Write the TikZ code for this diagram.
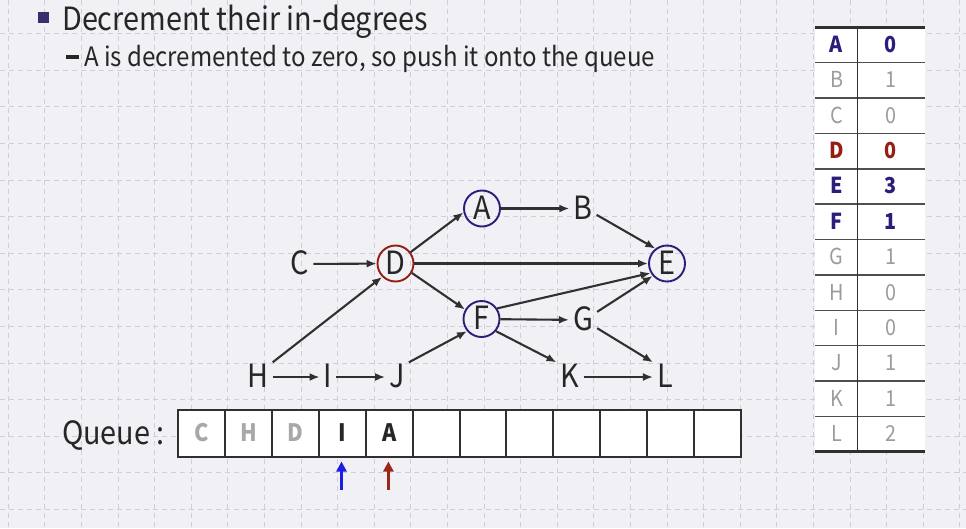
\documentclass[tikz,border=0pt]{standalone}
\usepackage{fontspec}
\setmainfont{Noto Sans CJK KR}[FakeStretch=0.9]
\usetikzlibrary{arrows.meta}
\definecolor{bg}{HTML}{F0F0F5}
\definecolor{gridc}{HTML}{CFCFD7}
\definecolor{txt}{HTML}{262626}
\definecolor{edgec}{HTML}{303030}
\definecolor{purp}{HTML}{2E1C7A}
\definecolor{darkred}{HTML}{941E12}
\definecolor{lgray}{HTML}{9C9C9C}
\definecolor{qgray}{HTML}{A8A8A8}
\definecolor{bulletc}{HTML}{3A2D6E}
\definecolor{arrblue}{HTML}{1E1EE0}
\definecolor{arrred}{HTML}{9A2818}
\tikzset{
  gridline/.style={gridc, line width=0.9pt, dash pattern=on 5pt off 4pt},
  letter/.style={font=\fontsize{32}{36}\selectfont, text=txt, inner sep=4pt, text height=21pt, text depth=0pt},
  vtx/.style={letter, circle, draw=purp, line width=1.9pt, minimum size=36pt, inner sep=0pt},
  vtxred/.style={vtx, draw=darkred},
  conn/.style={line width=2.1pt, draw=edgec, -{Latex[length=10pt,width=8pt]}},
  tbase/.style={font=\fontsize{22}{26}\selectfont, inner sep=0pt, text height=15pt, text depth=0pt},
  tp/.style={tbase, font=\fontsize{22}{26}\selectfont\bfseries, text=purp},
  tr/.style={tbase, font=\fontsize{22}{26}\selectfont\bfseries, text=darkred},
  tg/.style={tbase, text=lgray},
  qcell/.style={draw=edgec, line width=2pt, fill=white, minimum width=46.92pt, minimum height=47pt, inner sep=0pt},
  qtext/.style={font=\fontsize{24}{26}\selectfont\bfseries, inner sep=0pt, text height=16pt, text depth=0pt},
  ptr/.style={line width=3pt, -{Triangle[length=10pt,width=10pt]}},
}
\begin{document}
\begin{tikzpicture}[x=1pt,y=-1pt]
\fill[bg] (0,0) rectangle (966,528);
\useasboundingbox (0,0) rectangle (966,528);
% grid
\foreach \i in {0,...,26} \draw[gridline] ({8.3+36.6*\i},0) -- ({8.3+36.6*\i},528);
\foreach \j in {0,...,13} \draw[gridline] (0,{33.7+36.6*\j}) -- (966,{33.7+36.6*\j});

% title
\node[fill=bulletc, minimum size=11pt, inner sep=0pt] (bul) at (43.5,17.5) {};
\node[anchor=base west, inner sep=0pt, text=txt, font=\fontsize{32}{36}\selectfont] (title) at (62,30) {Decrement their in-degrees};
\node[anchor=base west, inner sep=0pt, text=txt, font=\fontsize{26.7}{30}\selectfont] (sub) at (66,66) {\rule[7.5pt]{13pt}{3.5pt}\hspace{5pt}A is decremented to zero, so push it onto the queue};

% graph nodes
\node[letter] (C) at (300,264) {C};
\node[vtxred] (D) at (395.5,263.5) {D};
\node[vtx] (A) at (482,208.5) {A};
\node[letter] (B) at (583,208.5) {B};
\node[vtx] (E) at (667,263.5) {E};
\node[vtx] (F) at (481.5,319) {F};
\node[letter] (G) at (583,320) {G};
\node[letter] (H) at (258,377) {H};
\node[letter] (I) at (328,377) {I};
\node[letter] (J) at (397,377) {J};
\node[letter] (K) at (570,377) {K};
\node[letter] (L) at (665,377) {L};

% connectors
\draw[conn] (C) -- (D);
\draw[conn] (D.37) -- (A.192);
\draw[conn] (A) -- (B);
\draw[conn] (B.-25) -- (E.128);
\draw[conn] (D) -- (E);
\draw[conn] (D.-30) -- (F.150);
\draw[conn] (H.north east) -- (D.225);
\draw[conn] (H) -- (I);
\draw[conn] (I) -- (J);
\draw[conn] (J.north east) -- (F.220);
\draw[conn] (F) -- (G);
\draw[conn] (F.34) -- (E.210);
\draw[conn] (G.30) -- (E.221);
\draw[conn] (G.-30) -- (L.north west);
\draw[conn] (F.-40) -- (K.north west);
\draw[conn] (K) -- (L);

% table
\fill[white] (815,27.3) rectangle (925,451.7);
\foreach \l/\v/\s [count=\i from 0] in {A/0/tp,B/1/tg,C/0/tg,D/0/tr,E/3/tp,F/1/tp,G/1/tg,H/0/tg,I/0/tg,J/1/tg,K/1/tg,L/2/tg}{
  \node[\s] (t\l) at (836.5,{27.3+35.37*(\i+0.5)}) {\l};
  \node[\s] (v\l) at (891,{27.3+35.37*(\i+0.5)}) {\v};
}
\foreach \i in {1,...,11} \draw[edgec!85, line width=1.5pt] (815,{27.3+35.37*\i}) -- (925,{27.3+35.37*\i});
\draw[edgec, line width=1.5pt] (857.7,27.3) -- (857.7,451.7);
\draw[edgec, line width=3pt] (815,27.3) -- (925,27.3);
\draw[edgec, line width=3pt] (815,451.7) -- (925,451.7);

% queue
\node[anchor=base east, inner sep=0pt, text=txt, font=\fontsize{32}{36}\selectfont] (qlabel) at (165,444) {Queue :};
\foreach \i in {0,...,11} \node[qcell] (q\i) at ({178+46.92*(\i+0.5)},433) {};
\node[qtext, text=qgray] (qC) at (q0) {C};
\node[qtext, text=qgray] (qH) at (q1) {H};
\node[qtext, text=qgray] (qD) at (q2) {D};
\node[qtext, text=txt] (qI) at (q3) {I};
\node[qtext, text=txt] (qA) at (q4) {A};
\coordinate (pb) at (341.5,490);
\coordinate (pr) at (388.4,490);
\draw[ptr, arrblue] (pb) -- ([yshift=-4pt]q3.south -| pb);
\draw[ptr, arrred] (pr) -- ([yshift=-4pt]q4.south -| pr);
\end{tikzpicture}
\end{document}
